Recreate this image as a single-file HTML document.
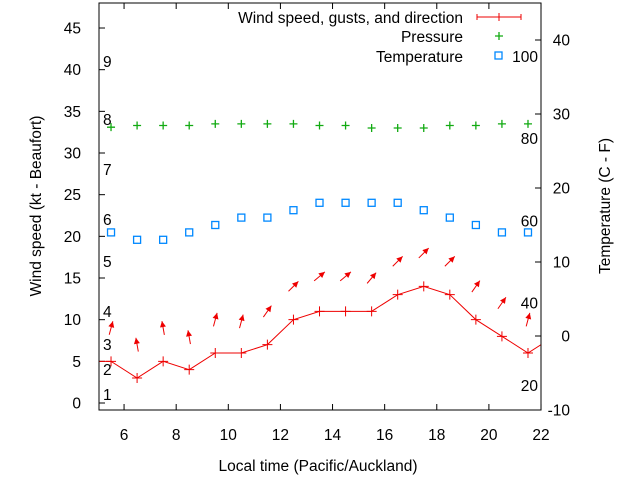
<!DOCTYPE html>
<html><head><meta charset="utf-8"><style>
body{margin:0;background:#fff}
svg text{font-family:"Liberation Sans",sans-serif;font-size:15.5px;fill:#000}
</style></head><body>
<svg id="chart" width="640" height="480" viewBox="0 0 640 480">
<defs><clipPath id="clip"><rect x="99" y="3" width="442" height="407"/></clipPath></defs>
<g id="grid"></g>
<g id="marks" clip-path="url(#clip)"></g>
<rect x="99" y="3" width="442" height="407" fill="none" stroke="#000"/>
<text x="318" y="471" text-anchor="middle">Local time (Pacific/Auckland)</text>
<text transform="translate(41,206) rotate(-90)" text-anchor="middle">Wind speed (kt - Beaufort)</text>
<text transform="translate(610,206) rotate(-90)" text-anchor="middle">Temperature (C - F)</text>
<g>
<text x="463" y="23" text-anchor="end">Wind speed, gusts, and direction</text>
<g stroke="#e00" fill="none"><line x1="477" y1="17" x2="521" y2="17"/><line x1="477" y1="14" x2="477" y2="20"/><line x1="521" y1="14" x2="521" y2="20"/><line x1="499" y1="13" x2="499" y2="21"/></g>
<text x="463" y="42" text-anchor="end">Pressure</text>
<path d="M495,36h8M499,32v8" stroke="#1a1" stroke-width="1.3"/>
<text x="463" y="62" text-anchor="end">Temperature</text>
<rect x="495" y="52" width="7" height="7" fill="none" stroke="#08f" stroke-width="1.3"/>
</g>
</svg>
<script>
const hours=[5.5,6.5,7.5,8.5,9.5,10.5,11.5,12.5,13.5,14.5,15.5,16.5,17.5,18.5,19.5,20.5,21.5];
const windSpeed=[5,3,5,4,6,6,7,10,11,11,11,13,14,13,10,8,6];
const windEdge=[[4.5,5],[22.5,8]];
const gusts=[9,7,9,7.9,10,9.8,11,14,15.2,15.2,15,17,18,17,14,12,10];
const windDir=[15,-10,-10,-10,15,15,35,45,50,50,40,45,45,45,35,35,15];
const pressure=[33.1,33.3,33.3,33.3,33.5,33.5,33.5,33.5,33.3,33.3,33.0,33.0,33.0,33.3,33.3,33.5,33.5];
const temperature=[14,13,13,14,15,16,16,17,18,18,18,18,17,16,15,14,14];
const xTicks=[6,8,10,12,14,16,18,20,22];
const yTicks=[0,5,10,15,20,25,30,35,40,45];
const y2Ticks=[-10,0,10,20,30,40];
const beaufort=[1,4,7,11,17,22,28,34,41];
const fahrenheit=[20,40,60,80,100];
const X=v=>98+(v-5)*26.06, Y=v=>403-v*8.333, Y2=v=>336-v*7.4;
const NS="http://www.w3.org/2000/svg";
function mk(p,tag,at){const e=document.createElementNS(NS,tag);for(const k in at)e.setAttribute(k,at[k]);p.appendChild(e);return e;}
const g=document.getElementById('grid'), m=document.getElementById('marks');
xTicks.forEach(t=>{const x=X(t);
 let l=mk(g,'path',{d:`M${x},410v-6M${x},3v6`,stroke:'#000'});
 let tx=mk(g,'text',{x:x,y:440,'text-anchor':'middle'});tx.textContent=t;});
yTicks.forEach(t=>{const y=Y(t);
 let l=mk(g,'path',{d:`M99,${y}h6`,stroke:'#000'});
 let tx=mk(g,'text',{x:81,y:y+5.5,'text-anchor':'end'});tx.textContent=t;});
y2Ticks.forEach(t=>{const y=Y2(t);
 let l=mk(g,'path',{d:`M541,${y}h-6`,stroke:'#000'});
 let tx=mk(g,'text',{x:570,y:y+5.5,'text-anchor':'end'});tx.textContent=t;});
beaufort.forEach((b,i)=>{let tx=mk(g,'text',{x:103,y:Y(b)+5.5});tx.textContent=i+1;});
fahrenheit.forEach(f=>{let tx=mk(g,'text',{x:538,y:Y2((f-32)*5/9)+5.5,'text-anchor':'end'});tx.textContent=f;});
const pts=[windEdge[0]].concat(hours.map((h,i)=>[h,windSpeed[i]]),[windEdge[1]]);
let wl=mk(m,'polyline',{points:pts.map(p=>X(p[0])+','+Y(p[1])).join(' '),fill:'none',stroke:'#e00'});

hours.forEach((h,i)=>{const x=X(h),y=Y(windSpeed[i]);
 let p=mk(m,'path',{d:`M${x-5},${y}h10M${x},${y-5}v10`,stroke:'#e00'});
 const a=windDir[i]*Math.PI/180,cx=x,cy=Y(gusts[i]),dx=Math.sin(a)*7,dy=-Math.cos(a)*7;
 const hx=cx+dx,hy=cy+dy,ux=dx/7,uy=dy/7,px=-uy,py=ux;
 let ar=mk(m,'g',{});
 mk(ar,'line',{x1:cx-dx,y1:cy-dy,x2:hx,y2:hy,stroke:'#e00'});
 mk(ar,'polygon',{points:`${hx},${hy} ${hx-ux*6+px*3},${hy-uy*6+py*3} ${hx-ux*6-px*3},${hy-uy*6-py*3}`,fill:'#e00'});
 const py2=Y(pressure[i]);
 let pp=mk(m,'path',{d:`M${x-4},${py2}h8M${x},${py2-4}v8`,stroke:'#1a1','stroke-width':1.3});
 const ty=Y2(temperature[i]);
 let tq=mk(m,'rect',{x:x-3.5,y:ty-3.5,width:7,height:7,fill:'none',stroke:'#08f','stroke-width':1.3});
});
</script>
</body></html>
